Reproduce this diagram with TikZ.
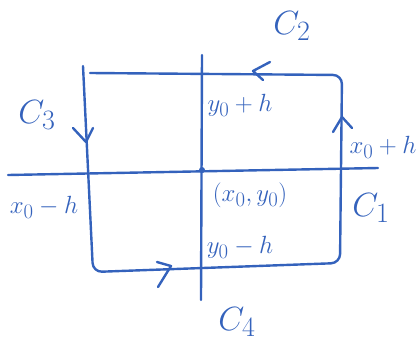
\documentclass[tikz,border=0pt]{standalone}
\definecolor{stiftblau}{RGB}{52,98,188}
\newcommand{\kurvenname}[1]{\scalebox{1.35}{$C_{#1}$}}
\tikzset{
	stift/.style={draw=stiftblau, line width=2.4pt, line cap=round, line join=round},
	kurve/.style={font=\Huge, text=stiftblau},
	marke/.style={font=\Huge, text=stiftblau}
}
\begin{document}
\begin{tikzpicture}[x=1pt,y=-1pt]
		
		\useasboundingbox (0,0) rectangle (416,349);
		
		% Achsen durch den Punkt
		\draw[stift] (8,175) -- (378,168);
		\draw[stift] (202,55) -- (201,300);
		\fill[stiftblau] (202,170) circle (3);
		
		% Rand des Quadrats
		\draw[stift, rounded corners=9pt] (83,66) -- (93,272) -- (340,263) -- (342,75) -- (90,73);
		
		% Pfeile auf dem Rand
		\draw[stift] (73,128) -- (86,142) -- (93,128);
		\draw[stift] (270,62) -- (253,71) -- (263,80);
		\draw[stift] (333,132) -- (342,117) -- (352,128);
		\draw[stift] (157,262) -- (171,266) -- (158,287);
		
		% Kurvenstuecke beschriften
		\node[kurve] (c1) at (371,208) {\kurvenname{1}};
		\node[kurve] (c2) at (292,26) {\kurvenname{2}};
		\node[kurve] (c3) at (37,115) {\kurvenname{3}};
		\node[kurve] (c4) at (237,322) {\kurvenname{4}};
		
		% Werte an den Achsen
		\node[marke] (yoben) at (240,105) {$y_0+h$};
		\node[marke] (xrechts) at (383,147) {$x_0+h$};
		\node[marke] (xlinks) at (44,207) {$x_0-h$};
		\node[marke] (mitte) at (250,195) {$(x_0,y_0)$};
		\node[marke] (yunten) at (240,247) {$y_0-h$};
		
	\end{tikzpicture}
\end{document}
